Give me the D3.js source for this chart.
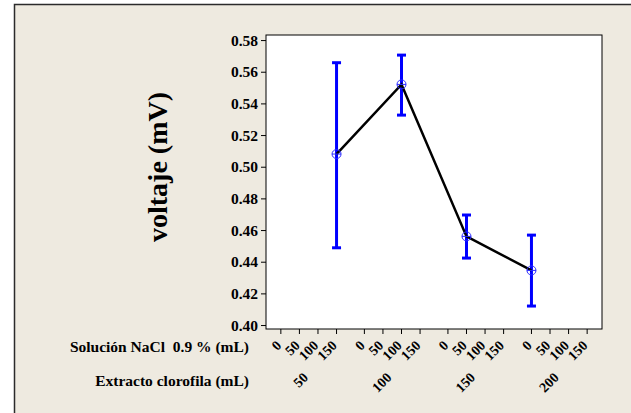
<!DOCTYPE html>
<html>
<head>
<meta charset="utf-8">
<script src="https://cdn.jsdelivr.net/npm/d3@7"></script>
<style>
  html, body { margin: 0; padding: 0; background: #ffffff; }
  svg { display: block; }
  text { font-family: "Liberation Serif", "Times New Roman", serif; font-weight: bold; fill: #000; }
</style>
</head>
<body>
<svg id="chart" width="631" height="413"></svg>
<script>
// ---- data ----
const naclLevels = [0, 50, 100, 150];           // Solución NaCl 0.9 % (mL)
const extractLevels = [50, 100, 150, 200];      // Extracto clorofila (mL)
const pointExtract = [50, 100, 150, 200];
const pointNacl = [150, 100, 50, 0];
const means = [0.508, 0.552, 0.456, 0.4345];
const upper = [0.5657, 0.5705, 0.4695, 0.4568];
const lower = [0.4488, 0.5326, 0.4423, 0.412];
const yTicks = [0.40, 0.42, 0.44, 0.46, 0.48, 0.50, 0.52, 0.54, 0.56, 0.58];

const svg = d3.select("#chart");
const W = 631, H = 413;

// outer panel
svg.append("rect").attr("x", 14.5).attr("y", 4.5).attr("width", W).attr("height", H)
  .attr("fill", "#EEEAE0").attr("stroke", "#2b2b2b").attr("stroke-width", 1.5);

const plot = { left: 266, right: 602, top: 35, bottom: 329 };
const groupGap = 4.5;
const pos = (ext, na) => extractLevels.indexOf(ext) * groupGap + naclLevels.indexOf(na);

const x = d3.scaleLinear().domain([-0.8, 3 * groupGap + 3 + 0.8]).range([plot.left, plot.right]);
const y = d3.scaleLinear().domain([0.3975, 0.5832]).range([plot.bottom, plot.top]);

// plot area
svg.append("rect").attr("x", plot.left).attr("y", plot.top)
  .attr("width", plot.right - plot.left).attr("height", plot.bottom - plot.top)
  .attr("fill", "#ffffff").attr("stroke", "#000").attr("stroke-width", 1);

// y axis
const yAxis = d3.axisLeft(y).tickValues(yTicks).tickFormat(d3.format(".2f")).tickSizeOuter(0).tickSize(5).tickPadding(3);
const gy = svg.append("g").attr("transform", `translate(${plot.left},0)`).call(yAxis);
gy.select(".domain").remove();
gy.selectAll("text").style("font-size", "15.5px").style("font-family", "Liberation Serif").style("font-weight", "bold");
gy.selectAll("line").attr("stroke", "#000");

// x ticks
const tickPositions = [];
extractLevels.forEach(e => naclLevels.forEach(n => tickPositions.push({ e, n, p: pos(e, n) })));
const gx = svg.append("g");
gx.selectAll("line").data(tickPositions).join("line")
  .attr("x1", d => x(d.p)).attr("x2", d => x(d.p))
  .attr("y1", plot.bottom).attr("y2", plot.bottom + 5)
  .attr("stroke", "#000");
gx.selectAll("text").data(tickPositions).join("text")
  .attr("x", d => x(d.p) - 1).attr("y", plot.bottom + 15)
  .attr("transform", d => `rotate(-45,${x(d.p) - 1},${plot.bottom + 15})`)
  .attr("text-anchor", "end").attr("dominant-baseline", "middle")
  .style("font-size", "14px")
  .text(d => d.n);

// group labels
svg.append("g").selectAll("text").data(extractLevels).join("text")
  .attr("x", d => x(pos(d, 0) + 1.5) - 2).attr("y", plot.bottom + 47)
  .attr("transform", d => `rotate(-45,${x(pos(d, 0) + 1.5) - 2},${plot.bottom + 47})`)
  .attr("text-anchor", "end").attr("dominant-baseline", "middle")
  .style("font-size", "14px")
  .text(d => d);

// row titles
svg.append("text").attr("x", 249).attr("y", 352).attr("text-anchor", "end")
  .style("font-size", "15.5px").style("white-space", "pre").attr("xml:space", "preserve")
  .text("Solución NaCl  0.9 % (mL)");
svg.append("text").attr("x", 249).attr("y", 386).attr("text-anchor", "end")
  .style("font-size", "15.5px").text("Extracto clorofila (mL)");

// y title
svg.append("text").attr("transform", `translate(167,167) rotate(-90)`)
  .attr("text-anchor", "middle").style("font-size", "28px").text("voltaje (mV)");

// data
const pts = means.map((m, i) => ({ p: pos(pointExtract[i], pointNacl[i]), m, lo: lower[i], hi: upper[i] }));

// error bars
const eb = svg.append("g").attr("stroke", "#0000FF").attr("stroke-width", 3);
eb.selectAll("line.v").data(pts).join("line").attr("class", "v")
  .attr("x1", d => x(d.p)).attr("x2", d => x(d.p)).attr("y1", d => y(d.lo)).attr("y2", d => y(d.hi));
eb.selectAll("line.t").data(pts).join("line").attr("class", "t")
  .attr("x1", d => x(d.p) - 4.5).attr("x2", d => x(d.p) + 4.5).attr("y1", d => y(d.hi)).attr("y2", d => y(d.hi));
eb.selectAll("line.b").data(pts).join("line").attr("class", "b")
  .attr("x1", d => x(d.p) - 4.5).attr("x2", d => x(d.p) + 4.5).attr("y1", d => y(d.lo)).attr("y2", d => y(d.lo));

// mean line
svg.append("path").datum(pts)
  .attr("d", d3.line().x(d => x(d.p)).y(d => y(d.m)))
  .attr("fill", "none").attr("stroke", "#000").attr("stroke-width", 2.5);

// markers (circle with cross)
const mk = svg.append("g").attr("stroke", "#2a2aff").attr("stroke-width", 1).attr("fill", "none");
mk.selectAll("circle").data(pts).join("circle")
  .attr("cx", d => x(d.p)).attr("cy", d => y(d.m)).attr("r", 4.5);
mk.selectAll("line.h").data(pts).join("line").attr("class", "h")
  .attr("x1", d => x(d.p) - 4.5).attr("x2", d => x(d.p) + 4.5).attr("y1", d => y(d.m)).attr("y2", d => y(d.m));
</script>
</body>
</html>
